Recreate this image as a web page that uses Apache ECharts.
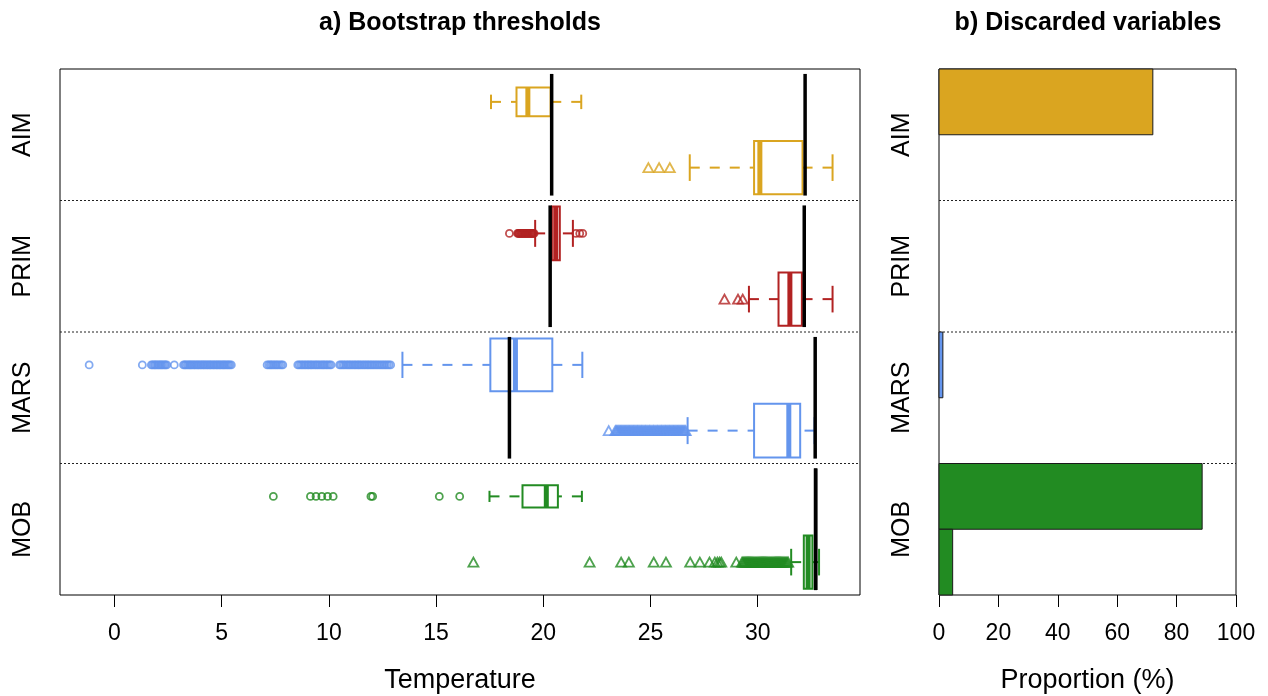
<!DOCTYPE html>
<html>
<head>
<meta charset="utf-8">
<script src="https://cdn.jsdelivr.net/npm/echarts@6/dist/echarts.min.js"></script>
<style>
html, body { margin: 0; padding: 0; background: #fff; }
#chart { width: 1268px; height: 696px; }
</style>
</head>
<body>
<div id="chart"></div>
<script>
// ---- data ----
const groups = ['AIM', 'PRIM', 'MARS', 'MOB'];
const groupColors = ['#DAA520', '#B22222', '#6495ED', '#228B22'];
const groupLabelPos = [1.5, 3.5, 5.5, 7.5];
const separatorPos = [2.5, 4.5, 6.5];

// eight boxes, two per variable (positions 1..8 from top)
const boxPos = [1, 2, 3, 4, 5, 6, 7, 8];
const boxGroup = [0, 0, 1, 1, 2, 2, 3, 3];
const whiskerLow = [17.56, 26.83, 19.62, 29.59, 13.43, 26.73, 17.49, 31.56];
const quart1 = [18.75, 29.83, 20.40, 30.97, 17.53, 29.83, 19.03, 32.15];
const medians = [19.28, 30.10, 20.58, 31.50, 18.70, 31.45, 20.14, 32.35];
const quart3 = [20.34, 32.09, 20.77, 32.06, 20.42, 31.98, 20.68, 32.55];
const whiskerHigh = [21.77, 33.49, 21.38, 33.49, 21.82, 32.65, 21.80, 32.86];
const boxWidth = [0.44, 0.81, 0.82, 0.81, 0.80, 0.82, 0.34, 0.81];

const outliers = [
  [],
  [24.9, 25.4, 25.9],
  [18.42, 18.80, 18.84, 18.87, 18.91, 18.95, 18.98, 19.02, 19.05, 19.09, 19.13, 19.16, 19.20, 19.24, 19.27, 19.31,
   19.35, 19.38, 19.42, 19.46, 19.50, 19.53, 19.57, 21.52, 21.70, 21.84],
  [28.45, 29.08, 29.3],
  [-1.18, 1.30, 1.72, 1.78, 1.85, 1.90, 1.96, 2.03, 2.08, 2.15, 2.20, 2.26, 2.33, 2.38, 2.44, 2.79,
   3.22, 3.28, 3.33, 3.40, 3.46, 3.52, 3.57, 3.63, 3.70, 3.75, 3.82, 3.88, 3.93, 4.00, 4.05, 4.12, 4.17, 4.23,
   4.30, 4.35, 4.42, 4.47, 4.53, 4.60, 4.65, 4.72, 4.78, 4.83, 4.90, 4.95, 5.02, 5.08, 5.13, 5.20, 5.26, 5.32,
   5.38, 5.45, 7.12, 7.20, 7.27, 7.33, 7.40, 7.48, 7.55, 7.62, 7.70, 7.78, 7.85, 8.55, 8.62, 8.70, 8.77, 8.85,
   8.92, 9.00, 9.06, 9.14, 9.20, 9.28, 9.36, 9.43, 9.50, 9.58, 9.66, 9.73, 9.80, 9.88, 9.95, 10.03, 10.10,
   10.50, 10.57, 10.65, 10.72, 10.80, 10.88, 10.95, 11.02, 11.10, 11.18, 11.25, 11.33, 11.40, 11.47, 11.55,
   11.63, 11.70, 11.78, 11.85, 11.93, 12.00, 12.08, 12.16, 12.24, 12.32, 12.40, 12.48, 12.56, 12.64, 12.72,
   12.80, 12.88],
  [23.05, 23.36, 23.41, 23.45, 23.50, 23.55, 23.60, 23.64, 23.69, 23.74, 23.79, 23.83, 23.88, 23.93, 23.98, 24.02,
   24.07, 24.12, 24.17, 24.21, 24.26, 24.31, 24.36, 24.40, 24.45, 24.50, 24.55, 24.59, 24.64, 24.69, 24.74, 24.78,
   24.83, 24.88, 24.93, 24.97, 25.02, 25.07, 25.12, 25.16, 25.21, 25.26, 25.31, 25.35, 25.40, 25.45, 25.50, 25.54,
   25.59, 25.64, 25.69, 25.73, 25.78, 25.83, 25.88, 25.92, 25.97, 26.02, 26.07, 26.11, 26.16, 26.21, 26.26, 26.30,
   26.35, 26.40, 26.45, 26.49, 26.54, 26.59, 26.64],
  [7.41, 9.14, 9.40, 9.67, 9.94, 10.20, 11.96, 12.04, 15.15, 16.10],
  [16.74, 22.16, 23.63, 23.99, 25.15, 25.72, 26.85, 27.30, 27.75, 28.00, 28.12, 28.22, 28.30, 29.00,
   29.27, 29.32, 29.37, 29.42, 29.47, 29.52, 29.57, 29.62, 29.67, 29.72, 29.77, 29.82, 29.87, 29.92, 29.97, 30.02,
   30.07, 30.12, 30.17, 30.22, 30.27, 30.32, 30.37, 30.42, 30.47, 30.52, 30.57, 30.62, 30.67, 30.72, 30.77, 30.82,
   30.87, 30.92, 30.97, 31.02, 31.07, 31.12, 31.17, 31.22, 31.27, 31.32, 31.37, 31.42]
];

// reference thresholds per variable (lower and upper)
const thresholdLow = [20.39, 20.32, 18.42, 32.70];
const thresholdHigh = [32.21, 32.17, 32.68, 32.70];

// proportion of discarded variables per box slot (%)
const discardedPct = [72.0, 0, 0, 0, 1.3, 0, 88.6, 4.6];

const tempTicks = [0, 5, 10, 15, 20, 25, 30];
const propTicks = [0, 20, 40, 60, 80, 100];

// ---- chart ----
const FONT = "'Liberation Sans', Arial, sans-serif";
const chart = echarts.init(document.getElementById('chart'), null, { renderer: 'canvas' });

const boxData = boxPos.map((p, i) => [p, whiskerLow[i], quart1[i], medians[i], quart3[i], whiskerHigh[i], boxWidth[i], boxGroup[i]]);

function renderBox(params, api) {
  const pos = api.value(0);
  const color = groupColors[api.value(7)];
  const h = api.size([0, api.value(6)])[1];
  const lo = api.coord([api.value(1), pos]);
  const q1 = api.coord([api.value(2), pos]);
  const md = api.coord([api.value(3), pos]);
  const q3 = api.coord([api.value(4), pos]);
  const hi = api.coord([api.value(5), pos]);
  const y = lo[1];
  const solid = { stroke: color, lineWidth: 2, fill: null };
  const dashed = { stroke: color, lineWidth: 2, lineDash: [10, 10], fill: null };
  return {
    type: 'group',
    children: [
      { type: 'line', shape: { x1: lo[0], y1: y, x2: q1[0], y2: y }, style: dashed },
      { type: 'line', shape: { x1: hi[0], y1: y, x2: q3[0], y2: y }, style: dashed },
      { type: 'line', shape: { x1: lo[0], y1: y - h / 4, x2: lo[0], y2: y + h / 4 }, style: solid },
      { type: 'line', shape: { x1: hi[0], y1: y - h / 4, x2: hi[0], y2: y + h / 4 }, style: solid },
      { type: 'rect', shape: { x: q1[0], y: y - h / 2, width: q3[0] - q1[0], height: h }, style: { stroke: color, lineWidth: 2, fill: 'rgba(255,255,255,0)' } },
      { type: 'line', shape: { x1: md[0], y1: y - h / 2, x2: md[0], y2: y + h / 2 }, style: { stroke: color, lineWidth: 5 } }
    ]
  };
}

const outlierData = [];
outliers.forEach((list, i) => {
  const tri = i % 2 === 1;
  list.forEach(v => {
    outlierData.push({
      value: [v, boxPos[i]],
      symbol: tri ? 'triangle' : 'circle',
      symbolSize: tri ? [10, 9] : 7,
      itemStyle: { color: 'rgba(0,0,0,0)', borderColor: groupColors[boxGroup[i]], borderWidth: 1.8 }
    });
  });
});

const thresholdData = [];
groups.forEach((g, gi) => {
  thresholdData.push([thresholdLow[gi], gi]);
  thresholdData.push([thresholdHigh[gi], gi]);
});

function renderThreshold(params, api) {
  const gi = api.value(1);
  const top = api.coord([api.value(0), gi * 2 + 0.5 + 0.075]);
  const bot = api.coord([api.value(0), gi * 2 + 2.5 - 0.075]);
  return { type: 'line', shape: { x1: top[0], y1: top[1], x2: bot[0], y2: bot[1] }, style: { stroke: '#000', lineWidth: 3.5 } };
}

function renderSeparator(params, api) {
  const cs = params.coordSys;
  const y = api.coord([0, api.value(0)])[1];
  return { type: 'line', shape: { x1: cs.x, y1: y, x2: cs.x + cs.width, y2: y }, style: { stroke: '#222', lineWidth: 1, lineDash: [2, 2] } };
}

const barData = boxPos.map((p, i) => [discardedPct[i], p, boxGroup[i]]);
function renderBar(params, api) {
  const v = api.value(0);
  if (!v) return null;
  const p = api.value(1);
  const a = api.coord([0, p - 0.5]);
  const b = api.coord([v, p + 0.5]);
  return {
    type: 'rect',
    shape: { x: a[0], y: a[1], width: b[0] - a[0], height: b[1] - a[1] },
    style: { fill: groupColors[api.value(2)], stroke: '#1a1a1a', lineWidth: 1 }
  };
}

const yAxisCommon = {
  type: 'value', min: 0.5, max: 8.5, inverse: true,
  axisLine: { show: false }, axisTick: { show: false }, splitLine: { show: false },
  axisLabel: {
    customValues: groupLabelPos,
    formatter: v => groups[groupLabelPos.indexOf(v)],
    rotate: 90, fontSize: 25, color: '#000', fontFamily: FONT, margin: 24
  }
};

const TITLE_FONT = "bold 25px 'Liberation Sans', Arial, sans-serif";

chart.setOption({
  backgroundColor: '#fff',
  animation: false,
  textStyle: { fontFamily: FONT },
  graphic: [
    { type: 'text', x: 460, y: 23, style: { text: 'a) Bootstrap thresholds', align: 'center', verticalAlign: 'middle', font: TITLE_FONT, fill: '#000' } },
    { type: 'text', x: 1088, y: 23, style: { text: 'b) Discarded variables', align: 'center', verticalAlign: 'middle', font: TITLE_FONT, fill: '#000' } }
  ],
  grid: [
    { left: 60, top: 69, width: 800, height: 526, outerBoundsMode: 'none', containLabel: false, show: true, borderColor: '#000', borderWidth: 1, backgroundColor: '#fff' },
    { left: 939, top: 69, width: 297, height: 526, outerBoundsMode: 'none', containLabel: false, show: true, borderColor: '#000', borderWidth: 1, backgroundColor: '#fff' }
  ],
  xAxis: [
    {
      gridIndex: 0, type: 'value', min: -2.54, max: 34.77,
      axisLine: { show: false }, splitLine: { show: false },
      axisTick: { show: true, length: 12, customValues: tempTicks, lineStyle: { color: '#000' } },
      axisLabel: { customValues: tempTicks, fontSize: 23, color: '#000', margin: 27, fontFamily: FONT },
      name: 'Temperature', nameLocation: 'middle', nameGap: 72,
      nameTextStyle: { fontSize: 27, color: '#000', fontFamily: FONT }
    },
    {
      gridIndex: 1, type: 'value', min: 0, max: 100, interval: 20,
      axisLine: { show: false }, splitLine: { show: false },
      axisTick: { show: true, length: 12, customValues: propTicks, lineStyle: { color: '#000' } },
      axisLabel: { customValues: propTicks, fontSize: 23, color: '#000', margin: 27, fontFamily: FONT },
      name: 'Proportion (%)', nameLocation: 'middle', nameGap: 72,
      nameTextStyle: { fontSize: 27, color: '#000', fontFamily: FONT }
    }
  ],
  yAxis: [
    Object.assign({ gridIndex: 0 }, yAxisCommon),
    Object.assign({ gridIndex: 1 }, yAxisCommon)
  ],
  series: [
    { type: 'custom', name: 'separators', xAxisIndex: 0, yAxisIndex: 0, data: separatorPos.map(v => [v]), encode: { y: 0 }, renderItem: renderSeparator, z: 1, silent: true },
    { type: 'custom', name: 'separators2', xAxisIndex: 1, yAxisIndex: 1, data: separatorPos.map(v => [v]), encode: { y: 0 }, renderItem: renderSeparator, z: 1, silent: true },
    { type: 'custom', name: 'boxes', xAxisIndex: 0, yAxisIndex: 0, data: boxData, encode: { x: [1, 2, 3, 4, 5], y: 0 }, renderItem: renderBox, z: 2, silent: true },
    { type: 'scatter', name: 'outliers', xAxisIndex: 0, yAxisIndex: 0, data: outlierData, z: 3, silent: true },
    { type: 'custom', name: 'thresholds', xAxisIndex: 0, yAxisIndex: 0, data: thresholdData, encode: { x: 0, y: 1 }, renderItem: renderThreshold, z: 4, silent: true },
    { type: 'custom', name: 'discarded', xAxisIndex: 1, yAxisIndex: 1, data: barData, encode: { x: 0, y: 1 }, renderItem: renderBar, z: 2, silent: true }
  ]
});
</script>
</body>
</html>
